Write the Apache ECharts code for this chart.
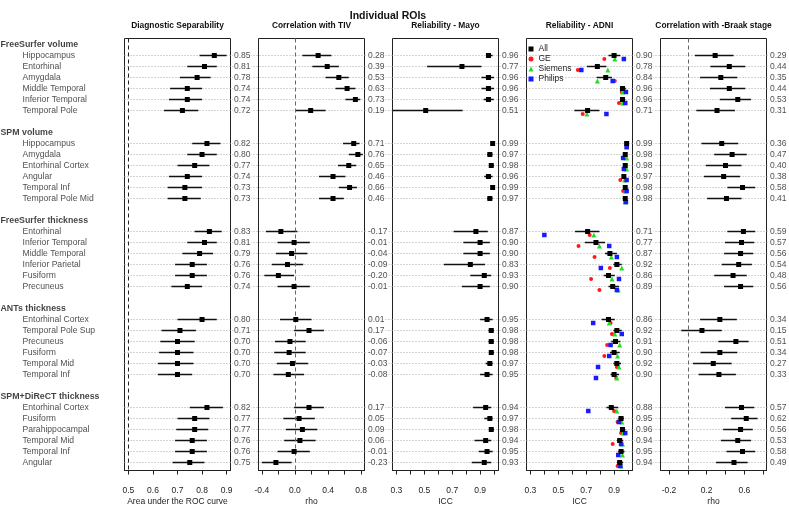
<!DOCTYPE html>
<html><head><meta charset="utf-8">
<script src="https://cdn.jsdelivr.net/npm/echarts@6/dist/echarts.min.js"></script>
<style>html,body{margin:0;padding:0;background:#fff}#c{width:789px;height:505px}</style>
</head><body><div id="c"></div>
<script>
// ---------- data ----------
const groupNames = ['FreeSurfer volume','SPM volume','FreeSurfer thickness','ANTs thickness','SPM+DiReCT thickness'];
const fsVolumeROIs = ['Hippocampus','Entorhinal','Amygdala','Middle Temporal','Inferior Temporal','Temporal Pole'];
const spmVolumeROIs = ['Hippocampus','Amygdala','Entorhinal Cortex','Angular','Temporal Inf','Temporal Pole Mid'];
const fsThicknessROIs = ['Entorhinal','Inferior Temporal','Middle Temporal','Inferior Parietal','Fusiform','Precuneus'];
const antsThicknessROIs = ['Entorhinal Cortex','Temporal Pole Sup','Precuneus','Fusiform','Temporal Mid','Temporal Inf'];
const directThicknessROIs = ['Entorhinal Cortex','Fusiform','Parahippocampal','Temporal Mid','Temporal Inf','Angular'];

const aucEst  = [0.85,0.81,0.78,0.74,0.74,0.72, 0.82,0.80,0.77,0.74,0.73,0.73, 0.83,0.81,0.79,0.76,0.76,0.74, 0.80,0.71,0.70,0.70,0.70,0.70, 0.82,0.77,0.77,0.76,0.76,0.75];
const aucLow  = [0.79,0.74,0.71,0.67,0.665,0.645, 0.76,0.74,0.70,0.665,0.66,0.66, 0.77,0.74,0.72,0.69,0.69,0.675, 0.70,0.635,0.63,0.625,0.62,0.62, 0.75,0.70,0.695,0.69,0.69,0.68];
const aucHigh = [0.90,0.86,0.835,0.80,0.80,0.785, 0.875,0.86,0.83,0.80,0.80,0.795, 0.88,0.86,0.845,0.82,0.82,0.80, 0.86,0.775,0.77,0.765,0.765,0.76, 0.885,0.83,0.825,0.82,0.82,0.81];

const tivEst  = [0.28,0.39,0.53,0.63,0.73,0.19, 0.71,0.76,0.65,0.46,0.66,0.46, -0.17,-0.01,-0.04,-0.09,-0.20,-0.01, 0.01,0.17,-0.06,-0.07,-0.03,-0.08, 0.17,0.05,0.09,0.06,-0.01,-0.23];
const tivLow  = [0.09,0.21,0.37,0.49,0.61,0.01, 0.58,0.65,0.52,0.29,0.53,0.29, -0.35,-0.21,-0.23,-0.28,-0.37,-0.21, -0.18,-0.01,-0.24,-0.25,-0.22,-0.26, -0.01,-0.14,-0.11,-0.13,-0.21,-0.40];
const tivHigh = [0.44,0.53,0.65,0.73,0.79,0.37, 0.78,0.82,0.74,0.61,0.75,0.59, 0.03,0.18,0.15,0.10,-0.01,0.18, 0.20,0.35,0.13,0.13,0.16,0.11, 0.35,0.24,0.27,0.25,0.18,-0.04];

const mayoEst  = [0.96,0.77,0.96,0.96,0.96,0.51, 0.99,0.97,0.98,0.96,0.99,0.97, 0.87,0.90,0.90,0.83,0.93,0.90, 0.95,0.98,0.98,0.98,0.97,0.95, 0.94,0.97,0.98,0.94,0.95,0.93];
const mayoLow  = [0.95,0.52,0.91,0.91,0.925,0.20, 0.98,0.95,0.97,0.93,0.985,0.95, 0.71,0.78,0.78,0.64,0.83,0.77, 0.90,0.96,0.96,0.97,0.94,0.90, 0.85,0.93,0.97,0.86,0.89,0.84];
const mayoHigh = [0.99,0.91,1.0,1.0,0.998,0.775, 1.0,0.99,1.0,0.99,1.0,0.99, 0.955,0.97,0.97,0.935,0.98,0.97, 0.99,1.0,1.0,1.0,0.99,0.99, 0.98,0.99,1.0,0.98,0.99,0.98];

const adniEst  = [0.90,0.78,0.84,0.96,0.96,0.71, 0.99,0.98,0.98,0.97,0.98,0.98, 0.71,0.77,0.87,0.92,0.86,0.89, 0.86,0.92,0.91,0.90,0.92,0.90, 0.88,0.95,0.96,0.94,0.95,0.94];
const adniLow  = [0.86,0.705,0.775,0.95,0.945,0.615, 0.985,0.97,0.975,0.96,0.975,0.975, 0.62,0.69,0.835,0.895,0.825,0.86, 0.81,0.895,0.88,0.87,0.895,0.875, 0.845,0.93,0.95,0.92,0.93,0.92];
const adniHigh = [0.945,0.845,0.885,0.985,0.98,0.795, 1.0,0.99,0.99,0.985,0.99,0.99, 0.795,0.835,0.92,0.955,0.905,0.935, 0.905,0.955,0.945,0.94,0.95,0.935, 0.93,0.97,0.98,0.965,0.975,0.965];
const adniGE      = [0.83,0.64,0.905,0.955,0.935,0.675, 0.99,0.965,0.98,0.945,0.965,0.98, 0.725,0.645,0.76,0.87,0.735,0.795, 0.875,0.885,0.85,0.83,0.92,0.915, 0.90,0.925,0.95,0.89,0.93,0.925];
const adniSiemens = [0.905,0.855,0.78,0.96,0.96,0.705, 0.99,0.99,0.99,0.975,0.98,0.98, 0.755,0.795,0.88,0.955,0.885,0.93, 0.865,0.905,0.94,0.925,0.935,0.92, 0.92,0.955,0.965,0.96,0.96,0.95];
const adniPhilips = [0.97,0.665,0.89,0.985,0.98,0.845, 0.99,0.965,0.97,0.99,0.99,0.985, 0.40,0.865,0.92,0.805,0.935,0.92, 0.75,0.955,0.875,0.865,0.785,0.77, 0.715,0.935,0.98,0.95,0.93,0.945];

const braakEst  = [0.29,0.44,0.35,0.44,0.53,0.31, 0.36,0.47,0.40,0.38,0.58,0.41, 0.59,0.57,0.56,0.54,0.48,0.56, 0.34,0.15,0.51,0.34,0.27,0.33, 0.57,0.62,0.56,0.53,0.58,0.49];
const braakLow  = [0.075,0.24,0.13,0.235,0.34,0.09, 0.145,0.28,0.19,0.17,0.42,0.205, 0.42,0.395,0.385,0.36,0.28,0.385, 0.13,-0.07,0.325,0.135,0.055,0.115, 0.395,0.46,0.375,0.35,0.41,0.30];
const braakHigh = [0.485,0.61,0.525,0.61,0.67,0.50, 0.535,0.625,0.57,0.555,0.715,0.57, 0.715,0.705,0.695,0.68,0.625,0.695, 0.52,0.36,0.645,0.525,0.465,0.51, 0.705,0.74,0.69,0.67,0.715,0.635];

const aucTicks = [0.5,0.6,0.7,0.8,0.9], aucTickLabels = [0.5,0.6,0.7,0.8,0.9];
const rhoTivTicks = [-0.4,-0.2,0,0.2,0.4,0.6,0.8], rhoTivTickLabels = [-0.4,0,0.4,0.8];
const iccTicks = [0.3,0.4,0.5,0.6,0.7,0.8,0.9,1.0], iccTickLabels = [0.3,0.5,0.7,0.9];
const rhoBraakTicks = [-0.2,0,0.2,0.4,0.6,0.8], rhoBraakTickLabels = [-0.2,0.2,0.6];

// ---------- layout / style ----------
const FONT = '"Liberation Sans", Arial, Helvetica, sans-serif';
const TOP = 38.5, H = 432, W = 106;
const YMIN = -1.545, YMAX = 37.727;
const roiNames = [].concat(fsVolumeROIs, spmVolumeROIs, fsThicknessROIs, antsThicknessROIs, directThicknessROIs);
const rowPos = i => Math.floor(i / 6) * 8 + (i % 6);
const headPos = g => g * 8 - 1;

const panels = [
  {left:124.5, min:0.484, max:0.916, ticks:aucTicks, labels:aucTickLabels, title:'Diagnostic Separability', name:'Area under the ROC curve', est:aucEst, lo:aucLow, hi:aucHigh, ref:0.5, refColor:'#222'},
  {left:258.5, min:-0.44, max:0.84, ticks:rhoTivTicks, labels:rhoTivTickLabels, title:'Correlation with TIV', name:'rho', est:tivEst, lo:tivLow, hi:tivHigh, ref:0, refColor:'#666'},
  {left:392.5, min:0.272, max:1.032, ticks:iccTicks, labels:iccTickLabels, title:'Reliability - Mayo', name:'ICC', est:mayoEst, lo:mayoLow, hi:mayoHigh, ref:null},
  {left:526.5, min:0.272, max:1.032, ticks:iccTicks, labels:iccTickLabels, title:'Reliability - ADNI', name:'ICC', est:adniEst, lo:adniLow, hi:adniHigh, ref:null},
  {left:660.5, min:-0.29, max:0.835, ticks:rhoBraakTicks, labels:rhoBraakTickLabels, title:'Correlation with -Braak stage', name:'rho', est:braakEst, lo:braakLow, hi:braakHigh, ref:0, refColor:'#666'}
];

const grids = [], xAxes = [], yAxes = [], series = [], graphics = [];
const yAx = gi => ({gridIndex:gi, type:'value', min:YMIN, max:YMAX, inverse:true, show:false});
const gridBase = {outerBoundsMode:'none', containLabel:false};

function ciRender(params, api) {
  const cs = params.coordSys;
  const a = api.coord([api.value(0), api.value(2)]);
  const b = api.coord([api.value(1), api.value(2)]);
  const x1 = Math.max(cs.x, Math.min(a[0], b[0]));
  const x2 = Math.min(cs.x + cs.width, Math.max(a[0], b[0]));
  return {type:'line', shape:{x1:x1, y1:a[1], x2:x2, y2:a[1]}, style:{stroke:'#111', lineWidth:1.5}};
}

panels.forEach((p, pi) => {
  grids.push(Object.assign({left:p.left, top:TOP, width:W, height:H, show:true, borderColor:'#222', borderWidth:1, backgroundColor:'transparent'}, gridBase));
  xAxes.push({
    gridIndex:pi, type:'value', min:p.min, max:p.max, position:'bottom',
    axisLine:{show:true, onZero:false, lineStyle:{color:'#222', width:1}}, splitLine:{show:false},
    axisTick:{show:true, inside:false, length:4, customValues:p.ticks, lineStyle:{color:'#222', width:1}},
    axisLabel:{show:true, customValues:p.labels, margin:16, fontSize:8.5, color:'#222', fontFamily:FONT, formatter:v => v.toFixed(1)},
    name:p.name, nameLocation:'middle', nameGap:27, nameMoveOverlap:false,
    nameTextStyle:{fontSize:8.5, color:'#222', fontFamily:FONT}
  });
  yAxes.push(yAx(pi));
  series.push({
    type:'custom', xAxisIndex:pi, yAxisIndex:pi, renderItem:ciRender, silent:true, z:3,
    encode:{x:[0,1], y:2},
    data:p.est.map((v, i) => [p.lo[i], p.hi[i], rowPos(i)])
  });
  const pointSeries = {
    type:'scatter', name:(pi === 3 ? 'All' : 'est' + pi), xAxisIndex:pi, yAxisIndex:pi, silent:true, z:6,
    symbol:'rect', symbolSize:5, itemStyle:{color:'#000', opacity:1},
    data:p.est.map((v, i) => [v, rowPos(i)])
  };
  if (p.ref !== null) {
    pointSeries.markLine = {silent:true, symbol:'none', label:{show:false}, animation:false,
      lineStyle:{type:[4,3], color:p.refColor, width:1}, data:[{xAxis:p.ref}]};
  }
  if (pi === 3) {
    const sub = [
      {name:'GE', vals:adniGE, symbol:'circle', size:4, color:'#ff1a1a'},
      {name:'Siemens', vals:adniSiemens, symbol:'triangle', size:5, color:'#22dd22'},
      {name:'Philips', vals:adniPhilips, symbol:'rect', size:4.5, color:'#1a1aff'}
    ];
    sub.forEach(s => series.push({
      type:'scatter', name:s.name, xAxisIndex:pi, yAxisIndex:pi, silent:true, z:5,
      symbol:s.symbol, symbolSize:s.size, symbolOffset:[0, 3.5], itemStyle:{color:s.color, opacity:1},
      data:s.vals.map((v, i) => [v, rowPos(i)])
    }));
  }
  series.push(pointSeries);
  series.push({
    type:'scatter', name:'lab' + pi, xAxisIndex:pi, yAxisIndex:pi, silent:true, z:8, clip:false,
    symbolSize:1, itemStyle:{color:'rgba(0,0,0,0)'},
    label:{show:true, position:'right', distance:2, fontSize:8.5, color:'#222', fontFamily:FONT,
      backgroundColor:'#fff', padding:[1,1], formatter:q => q.value[2].toFixed(2)},
    data:p.est.map((v, i) => [p.max, rowPos(i), v])
  });
  graphics.push({type:'text', x:p.left + W / 2, y:26, silent:true,
    style:{text:p.title, align:'center', verticalAlign:'middle', textAlign:'center', textVerticalAlign:'middle',
      font:'bold 8.4px ' + FONT, fill:'#111'}});
});

// background dotted row lines
const BG = panels.length;
grids.push(Object.assign({left:124.5, top:TOP, right:18, height:H, show:false}, gridBase));
xAxes.push({gridIndex:BG, type:'value', min:0, max:1, show:false});
yAxes.push(yAx(BG));
series.push({
  type:'custom', xAxisIndex:BG, yAxisIndex:BG, silent:true, z:1, encode:{x:0, y:1},
  renderItem:(params, api) => {
    const cs = params.coordSys;
    const y = api.coord([0, api.value(1)])[1];
    return {type:'line', shape:{x1:cs.x, y1:y, x2:cs.x + cs.width, y2:y},
      style:{stroke:'#a8a8a8', lineWidth:1, lineDash:[1,2]}};
  },
  data:roiNames.map((n, i) => [0, rowPos(i)])
});

// row labels
const LB = BG + 1;
grids.push(Object.assign({left:0, top:TOP, width:120, height:H, show:false}, gridBase));
xAxes.push({gridIndex:LB, type:'value', min:0, max:1, show:false});
yAxes.push(yAx(LB));
series.push({
  type:'scatter', xAxisIndex:LB, yAxisIndex:LB, silent:true, z:8, clip:false,
  symbolSize:1, itemStyle:{color:'rgba(0,0,0,0)'},
  label:{show:true, position:'right', distance:0, fontSize:8.8, fontWeight:'bold', color:'#111', fontFamily:FONT, formatter:'{b}'},
  data:groupNames.map((n, g) => ({name:n, value:[0, headPos(g)]}))
});
series.push({
  type:'scatter', xAxisIndex:LB, yAxisIndex:LB, silent:true, z:8, clip:false,
  symbolSize:1, itemStyle:{color:'rgba(0,0,0,0)'},
  label:{show:true, position:'right', distance:22, fontSize:8.6, color:'#222', fontFamily:FONT, formatter:'{b}'},
  data:roiNames.map((n, i) => ({name:n, value:[0, rowPos(i)]}))
});

graphics.push({type:'text', x:388, y:16, silent:true,
  style:{text:'Individual ROIs', align:'center', verticalAlign:'middle', textAlign:'center', textVerticalAlign:'middle',
    font:'bold 10.5px ' + FONT, fill:'#111'}});

const chart = echarts.init(document.getElementById('c'), null, {renderer:'canvas', width:789, height:505});
chart.setOption({
  animation:false,
  backgroundColor:'#fff',
  textStyle:{fontFamily:FONT},
  grid:grids, xAxis:xAxes, yAxis:yAxes,
  legend:{orient:'vertical', left:528.5, top:44.5, itemWidth:5, itemHeight:5, itemGap:1, padding:0,
    selectedMode:false, textStyle:{fontSize:8.5, color:'#222', fontFamily:FONT},
    data:[{name:'All', icon:'rect'}, {name:'GE', icon:'circle'}, {name:'Siemens', icon:'triangle'}, {name:'Philips', icon:'rect'}]},
  graphic:graphics,
  series:series
});
</script></body></html>
